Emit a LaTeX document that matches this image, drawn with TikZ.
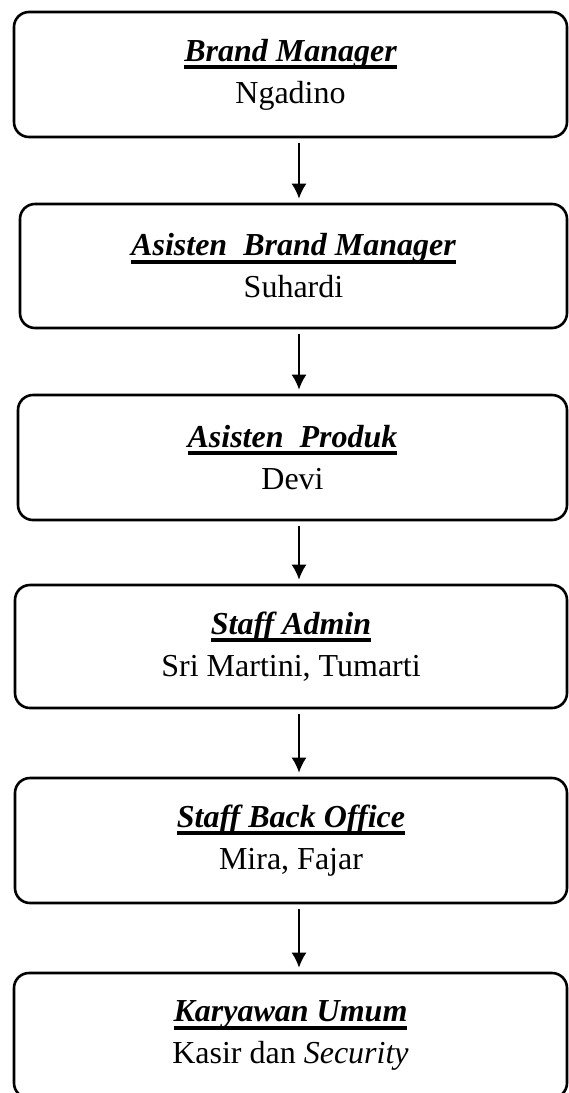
\documentclass[tikz,border=0pt]{standalone}
\usepackage{fontspec}
\setmainfont{Liberation Serif}
\usetikzlibrary{arrows.meta}

\newcommand{\judul}[1]{\setbox0=\hbox{\bfseries\itshape #1}\rlap{\rule[-4pt]{\wd0}{2pt}}\box0}
\tikzset{jabatan/.style={draw,line width=1.3pt,rounded corners=7.5pt,align=center,inner sep=0pt,font=\fontsize{16}{21}\selectfont}}

\begin{document}
\begin{tikzpicture}[x=0.5pt,y=-0.5pt]
	\useasboundingbox (0,0) rectangle (568,1093);
	\coordinate (sumbu) at (299,0);
	%
	\node[jabatan,minimum width=276.5pt,minimum height=62.5pt] (bm) at (290.5,74.5) {\judul{Brand Manager}\\Ngadino};
	\node[jabatan,minimum width=273.5pt,minimum height=62pt] (abm) at (293.5,266) {\judul{Asisten\ \ Brand Manager}\\Suhardi};
	\node[jabatan,minimum width=274.5pt,minimum height=62.5pt] (ap) at (292.5,457.5) {\judul{Asisten\ \ Produk}\\Devi};
	\node[jabatan,minimum width=276pt,minimum height=61.5pt] (sa) at (291,646.5) {\judul{Staff Admin}\\Sri Martini, Tumarti};
	\node[jabatan,minimum width=276pt,minimum height=62.5pt] (sbo) at (291,840.5) {\judul{Staff Back Office}\\Mira, Fajar};
	\node[jabatan,minimum width=276.5pt,minimum height=62.5pt] (ku) at (290.5,1035.5) {\judul{Karyawan Umum}\\Kasir dan \textit{Security}};
	%
	\begin{scope}[line width=1pt,>={Latex[length=7.5pt,width=7.5pt]},shorten <=2.5pt,shorten >=2pt]
		\draw[->] (bm.south -| sumbu) -- (abm.north -| sumbu);
		\draw[->] (abm.south -| sumbu) -- (ap.north -| sumbu);
		\draw[->] (ap.south -| sumbu) -- (sa.north -| sumbu);
		\draw[->] (sa.south -| sumbu) -- (sbo.north -| sumbu);
		\draw[->] (sbo.south -| sumbu) -- (ku.north -| sumbu);
	\end{scope}
\end{tikzpicture}
\end{document}
